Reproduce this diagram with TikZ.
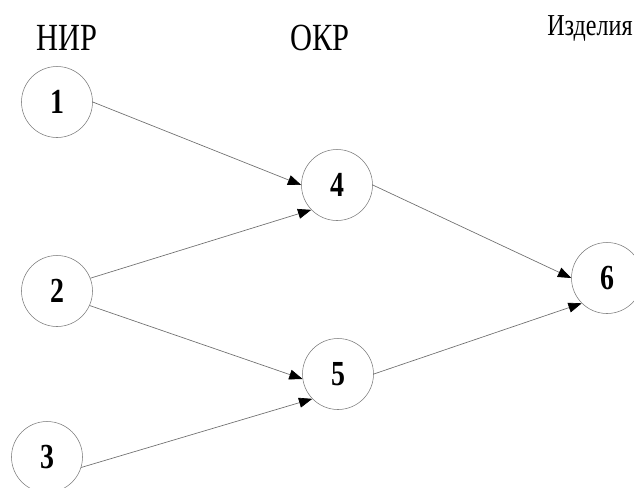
\documentclass[tikz,border=0pt]{standalone}
\usepackage{fontspec}
\setmainfont{Liberation Serif}
\usetikzlibrary{arrows.meta}
\newcommand{\tallt}[1]{\scalebox{0.95}[1.2]{#1}}

\begin{document}
\begin{tikzpicture}[x=0.75pt,y=0.75pt,yscale=-1,xscale=1,
  knot/.style={draw={rgb,255:red,120;green,120;blue,120},circle,minimum size=53.25pt,inner sep=0pt,font=\fontsize{22}{24}\selectfont\bfseries},
  head/.style={anchor=base,inner sep=0.75pt,font=\fontsize{24}{28}\selectfont},
  link/.style={draw={rgb,255:red,110;green,110;blue,110},line width=0.5pt,-{Triangle[length=10pt,width=7.5pt,color=black]}}]
\useasboundingbox (0,0) rectangle (634,487);

% Text Node
\node [head] (nir) at (67,50) {\tallt{НИР}};
% Text Node
\node [head] (okr) at (320,50) {\tallt{ОКР}};
% Text Node
\node [head,anchor=base west,font=\fontsize{19}{24}\selectfont] (izd) at (546,35) {\tallt{Изделия}};

%Shape: Circle
\node [knot] (n1) at (57,102) {\tallt{1}};
%Shape: Circle
\node [knot] (n2) at (57,291) {\tallt{2}};
%Shape: Circle
\node [knot] (n3) at (47,457) {\tallt{3}};
%Shape: Circle
\node [knot] (n4) at (337,185) {\tallt{4}};
%Shape: Circle
\node [knot] (n5) at (338,374) {\tallt{5}};
%Shape: Circle
\node [knot] (n6) at (607,278) {\tallt{6}};

%Straight Lines
\draw [link] (n1.east) -- (n4.west);
\draw [link] (n2.21) -- (n4.224);
\draw [link] (n2.336) -- (n5.188);
\draw [link] (n3.343) -- (n5.224);
\draw [link] (n4.east) -- (n6.west);
\draw [link] (n5.east) -- (n6.225);

\end{tikzpicture}
\end{document}
